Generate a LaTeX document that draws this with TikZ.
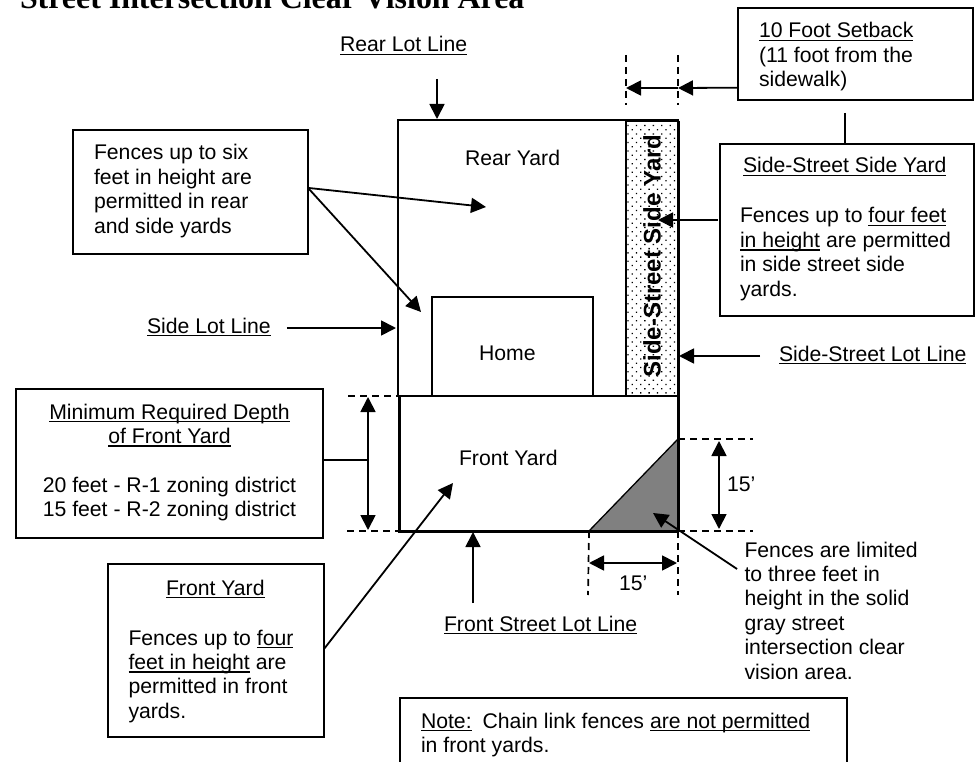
\documentclass[tikz,border=0pt]{standalone}
\usepackage{fontspec}
\setmainfont{Liberation Sans}
\newfontfamily\titlefont{Liberation Serif}[Scale=1]
\usetikzlibrary{arrows.meta,patterns.meta,calc}
\newcommand\ullx[1]{\leavevmode\setbox0=\hbox{#1}\rlap{\rule[-3.2pt]{\wd0}{1.6pt}}\box0\relax}
\newcommand\tbox[5]{\parbox[c][#2pt][t]{#1pt}{\raggedright #4\relax\rule{0pt}{#3pt}#5}}
\tikzset{
  x=1pt,y=-1pt,
  every node/.style={inner sep=0pt,outer sep=0pt,font=\fontsize{21.2}{24.4}\selectfont},
  boxed/.style={draw,line width=1.8pt,anchor=north west},
  plain/.style={anchor=north west},
  lab/.style={anchor=base west},
  arr/.style={line width=1.8pt,-{Triangle[length=15pt,width=15pt]}},
  arrb/.style={line width=1.8pt,{Triangle[length=15pt,width=15pt]}-{Triangle[length=15pt,width=15pt]}},
  thin line/.style={line width=1.8pt},
  dashline/.style={line width=1.7pt,dash pattern=on 7pt off 5pt},
  heavy/.style={line width=3pt},
}
\begin{document}
\begin{tikzpicture}
\useasboundingbox (0,0) rectangle (980,762);
% title
\node[lab,font=\titlefont\bfseries\fontsize{31.9}{36}\selectfont] (title) at (20,8.5) {Street Intersection Clear Vision Area};
% plan
\node[boxed,minimum width=280pt,minimum height=276pt] (lot) at (398,120)
  {\tbox{280}{276}{46}{\leftskip=67pt}{Rear Yard}};
\node[plain,draw,line width=2.2pt,minimum width=52pt,minimum height=275pt,
  pattern={Dots[distance=6pt,angle=45,radius=0.9pt]}] (strip) at (626,121) {};
\node[font=\bfseries\fontsize{24}{26}\selectfont,rotate=90] (striptext) at (652,256) {Side-Street Side Yard};
\node[boxed,minimum width=161pt,minimum height=99pt] (home) at (432,297)
  {\tbox{161}{99}{63}{\leftskip=47pt}{Home}};
\node[plain,minimum width=279pt,minimum height=135pt] (front) at (399,396)
  {\tbox{279}{135}{69}{\leftskip=60pt}{Front Yard}};
\draw[heavy] (front.north west) -- (front.south west) -- (front.south east);
\draw[heavy] (strip.north east) -- (front.south east);
\draw[line width=2pt] (front.north west) -- (front.north east);
\coordinate (tria) at (589,531);
\coordinate (trib) at (678,439);
\fill[black!50] (tria) -- (trib) -- (678,531) -- cycle;
\draw[line width=1.3pt] (tria) -- (trib);
\draw[heavy] (tria) -- (front.south east);
\draw[heavy] (trib) -- (front.south east);
% boxes
\node[boxed,minimum width=235pt,minimum height=92pt] (setback) at (738,8)
  {\tbox{235}{92}{30}{\leftskip=21pt}{\ullx{10 Foot Setback}\\(11 foot from the\\sidewalk)}};
\node[boxed,minimum width=254pt,minimum height=172pt] (sidebox) at (720,144)
  {\tbox{254}{172}{29}{\leftskip=20pt}{\hspace*{3pt}\ullx{Side-Street Side Yard}\\[25.6pt]Fences up to \ullx{four feet}\\\ullx{in height} are permitted\\in side street side\\yards.}};
\node[boxed,minimum width=235pt,minimum height=124pt] (fences) at (73,130)
  {\tbox{235}{124}{30}{\leftskip=21pt}{Fences up to six\\feet in height are\\permitted in rear\\and side yards}};
\node[boxed,minimum width=307pt,minimum height=149pt] (minbox) at (16,389)
  {\tbox{307}{149}{30}{\centering}{\ullx{Minimum Required Depth}\\\ullx{of Front Yard}\\[24.4pt]20 feet - R-1 zoning district\\15 feet - R-2 zoning district}};
\node[boxed,minimum width=216pt,minimum height=173pt] (fybox) at (108,564)
  {\tbox{216}{173}{31}{\leftskip=20.5pt}{\hspace*{37.5pt}\ullx{Front Yard}\\[25.6pt]Fences up to \ullx{four}\\\ullx{feet in height} are\\permitted in front\\yards.}};
\node[plain,minimum width=447pt,minimum height=64pt] (note) at (400,698)
  {\tbox{447}{64}{30}{\leftskip=21pt}{\ullx{Note:}\hspace{11pt}Chain link fences \ullx{are not permitted}\\in front yards.}};
\draw[thin line] (note.south west) -- (note.north west) -- (note.north east) -- (note.south east);
% free labels
\node[lab] (rearlabel) at (340,52) {\ullx{Rear Lot Line}};
\node[lab] (sidelabel) at (147,333) {\ullx{Side Lot Line}};
\node[lab] (sslabel) at (779,361) {\ullx{Side-Street Lot Line}};
\node[lab] (frontlabel) at (444,631) {\ullx{Front Street Lot Line}};
\node[lab] (graynote) at (744.5,557) {\parbox[t]{220pt}{\raggedright Fences are limited\\to three feet in\\height in the solid\\gray street\\intersection clear\\vision area.}};
\node[lab] (dimv) at (727,491) {15’};
\node[lab] (dimh) at (619,590) {15’};
% named ends
\coordinate (ra) at (437,79);
\coordinate (rb) at (437,119);
\coordinate (fa) at (486,207);
\coordinate (fb) at (421,312);
\coordinate (sa) at (396,328);
\coordinate (ssa) at (679,356);
\coordinate (sy) at (658,220);
\coordinate (dl) at (626,88);
\coordinate (dr) at (678,88);
\coordinate (sbtop) at (845,113);
\coordinate (fr) at (473,603);
\coordinate (frt) at (473,532);
\coordinate (fyt) at (453,483);
\coordinate (gs) at (737,569);
\coordinate (gt) at (653,513);
\coordinate (mt) at (368,397);
\coordinate (mb) at (368,530);
\coordinate (mj) at (368,460);
\coordinate (vt) at (719,441);
\coordinate (vb) at (719,529);
\coordinate (hl) at (589,563);
\coordinate (hr) at (677,563);
% dashes
\draw[dashline] (626,55) -- (626,105);
\draw[dashline] (678,55) -- (678,105);
\draw[dashline] (348,396) -- (399,396);
\draw[dashline] (347,531) -- (399,531);
\draw[dashline] (trib) -- (753,439);
\draw[dashline] (front.south east) -- (753,531);
\draw[dashline] (tria |- front.south) -- (588,595);
\draw[dashline] (front.south east) -- (678,595);
% connectors
\draw[arr] (ra) -- (rb);
\draw[arr] (fences.2) -- (fa);
\draw[arr] (fences.2) -- (fb);
\draw[arr] ([xshift=16pt]sidelabel.east |- sa) -- (sa);
\draw[arr] (setback.196) -- (dr);
\draw[arr] (dr) -- (dl);
\draw[thin line] (sbtop) -- (sbtop |- sidebox.north);
\draw[arr] ([xshift=-2pt]sidebox.west |- sy) -- (sy);
\draw[arr] ([xshift=-19pt]sslabel.west |- ssa) -- (ssa);
\draw[arrb] (mt) -- (mb);
\draw[thin line] (minbox.east |- mj) -- (mj);
\draw[arr] (fybox.east |- 0,649) -- (fyt);
\draw[arr] (fr) -- (frt);
\draw[arr] (gs) -- (gt);
\draw[arrb] (vt) -- (vb);
\draw[arrb] (hl) -- (hr);
\end{tikzpicture}
\end{document}
